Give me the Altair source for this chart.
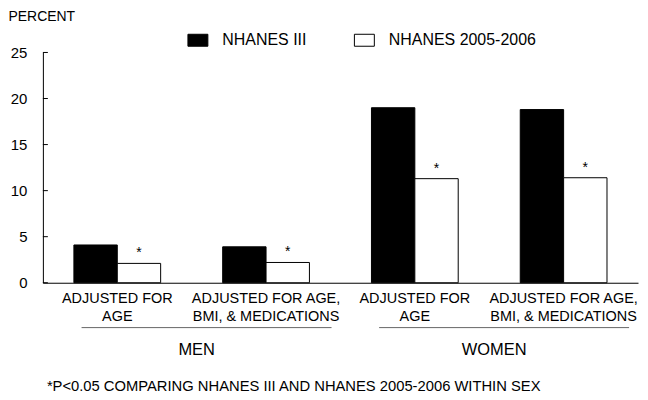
import altair as alt
import pandas as pd

categories = ["Men: age", "Men: age, BMI, meds", "Women: age", "Women: age, BMI, meds"]
category_labels = [
    "ADJUSTED FOR\nAGE",
    "ADJUSTED FOR AGE,\nBMI, & MEDICATIONS",
    "ADJUSTED FOR\nAGE",
    "ADJUSTED FOR AGE,\nBMI, & MEDICATIONS",
]
series = ["NHANES III", "NHANES 2005-2006"]
nhanes_iii = [4.1, 3.9, 19.0, 18.8]
nhanes_0506 = [2.1, 2.2, 11.3, 11.4]
significant = [True, True, True, True]
groups = ["MEN", "WOMEN"]
group_start = [categories[0], categories[2]]
group_end = [categories[1], categories[3]]
y_ticks = [0, 5, 10, 15, 20, 25]
footnote = "*P<0.05 COMPARING NHANES III AND NHANES 2005-2006 WITHIN SEX"

FONT = "Liberation Sans"

rows = []
for c, a, b, s in zip(categories, nhanes_iii, nhanes_0506, significant):
    rows.append({"category": c, "series": series[0], "value": a, "sig": False})
    rows.append({"category": c, "series": series[1], "value": b, "sig": s})
bars_df = pd.DataFrame(rows)
labels_df = pd.DataFrame({"category": categories, "label": category_labels})
groups_df = pd.DataFrame({"group": groups, "start": group_start, "end": group_end})
ticks_df = pd.DataFrame({"value": y_ticks})
foot_df = pd.DataFrame({"t": [footnote]})

x_scale = alt.Scale(domain=categories, paddingInner=0, paddingOuter=0)
y_scale = alt.Scale(domain=[0, 25], nice=False)

bars = alt.Chart(bars_df).mark_bar(stroke="black", strokeWidth=1).encode(
    x=alt.X("category:N", scale=x_scale, title=None,
            axis=alt.Axis(labels=False, ticks=False, title=None, domainColor="black", domainWidth=1)),
    xOffset=alt.XOffset("series:N", scale=alt.Scale(domain=series, paddingInner=0, paddingOuter=0.715)),
    y=alt.Y("value:Q", scale=y_scale, title="PERCENT",
            axis=alt.Axis(values=y_ticks, ticks=False, grid=False, labelPadding=16, labelFontSize=15,
                          labelColor="black", domainColor="black", domainWidth=1,
                          title="PERCENT", titleAngle=0, titleAlign="left", titleBaseline="alphabetic",
                          titleX=-35, titleY=-32, titleFontSize=14, titleFontWeight="normal",
                          titleColor="black")),
    fill=alt.Fill("series:N", scale=alt.Scale(domain=series, range=["black", "white"]),
                  legend=alt.Legend(title=None, orient="none", legendX=145, legendY=-23,
                                    direction="horizontal", symbolType="M-1,-0.6H1V0.6H-1Z",
                                    symbolSize=400, symbolStrokeColor="black", symbolStrokeWidth=1,
                                    labelFontSize=16, labelOffset=14, columnPadding=45, padding=0,
                                    labelColor="black")),
)

stars = alt.Chart(bars_df).transform_filter("datum.sig").mark_text(
    text="*", fontSize=14, baseline="alphabetic", dy=-6, color="black"
).encode(
    x=alt.X("category:N", title=None),
    xOffset=alt.XOffset("series:N"),
    y=alt.Y("value:Q", title="PERCENT"),
)

yticks = alt.Chart(ticks_df).mark_rule(color="black", strokeWidth=1).encode(
    y=alt.Y("value:Q", title="PERCENT"),
    x=alt.value(0),
    x2=alt.value(5),
)

cat_labels = alt.Chart(labels_df).mark_text(
    lineBreak="\n", baseline="top", align="center", fontSize=14.5, lineHeight=18, color="black"
).encode(
    x=alt.X("category:N", title=None),
    y=alt.value(240),
    text="label:N",
)

group_rules = alt.Chart(groups_df).mark_rule(color="#666", strokeWidth=1).encode(
    x=alt.X("start:N", bandPosition=0.26, title=None),
    x2=alt.X2("end:N", bandPosition=0.94, title=None),
    y=alt.value(276),
)

group_names = alt.Chart(groups_df).mark_text(
    baseline="top", align="center", fontSize=16.5, dx=5, color="black"
).encode(
    x=alt.X("start:N", bandPosition=1, title=None),
    y=alt.value(290),
    text="group:N",
)

foot = alt.Chart(foot_df).mark_text(
    baseline="top", align="left", fontSize=14.8, color="black"
).encode(
    x=alt.value(4),
    y=alt.value(328),
    text="t:N",
)

chart = alt.layer(bars, stars, yticks, cat_labels, group_rules, group_names, foot).properties(
    width=597,
    height=231,
    autosize=alt.AutoSizeParams(type="none"),
    padding={"left": 35, "top": 44, "right": 2, "bottom": 110},
).configure(font=FONT).configure_view(stroke=None)

chart.save("out.html", embed_options={"renderer": "svg", "actions": False})
